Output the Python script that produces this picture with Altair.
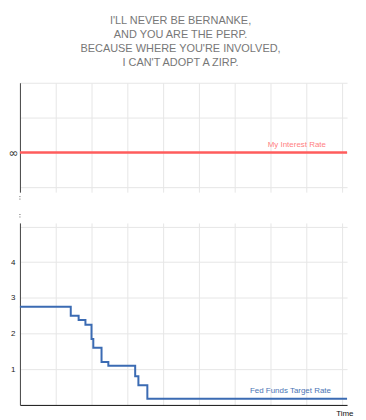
import altair as alt
import pandas as pd

# Fed funds target rate (step function)
fed_time = [0, 1.42, 1.64, 1.83, 2.0, 2.05, 2.28, 2.47, 3.22, 3.31, 3.56, 9.14]
fed_rate = [2.75, 2.5, 2.38, 2.25, 1.85, 1.6, 1.2, 1.1, 0.8, 0.55, 0.17, 0.17]

# "My interest rate" = infinity, drawn at the infinity level of the top panel
my_time = [0, 9.14]
my_rate = [0, 0]

title_lines = [
    "I'LL NEVER BE BERNANKE,",
    "AND YOU ARE THE PERP.",
    "BECAUSE WHERE YOU'RE INVOLVED,",
    "I CAN'T ADOPT A ZIRP.",
]
grid_times = list(range(10))

FONT = "Liberation Sans"
RED = "#ff5c5c"
BLUE = "#3b6bb3"
GRID = "#e6e6e6"
W = 329

fed = pd.DataFrame({"time": fed_time, "rate": fed_rate})
mine = pd.DataFrame({"time": my_time, "rate": my_rate})
my_label = pd.DataFrame({"time": [8.55], "rate": [0], "label": ["My Interest Rate"]})
fed_label = pd.DataFrame({"time": [8.69], "rate": [0.17], "label": ["Fed Funds Target Rate"]})

xscale = alt.Scale(domain=[0, 9.14], nice=False, zero=False)

# ---- top panel ----
top_y = alt.Scale(domain=[-1.14, 2], nice=False, zero=False)
x_top = alt.X("time:Q", scale=xscale, axis=alt.Axis(
    grid=True, labels=False, ticks=False, domain=False, title=None,
    values=grid_times, gridColor=GRID))
y_top = alt.Y("rate:Q", scale=top_y, axis=alt.Axis(
    values=[-1, 0, 1, 2], labelExpr="datum.value == 0 ? '\\u221e' : ''",
    grid=True, gridColor=GRID, ticks=False, domainColor="#444",
    labelFontSize=12, labelColor="#333", labelPadding=2, title=None,
    labelFont="DejaVu Sans"))
top_line = alt.Chart(mine).mark_line(color=RED, strokeWidth=2.5).encode(x=x_top, y=y_top)
top_text = alt.Chart(my_label).mark_text(
    align="right", baseline="bottom", dy=-3, color="#ff7f7f", fontSize=8, font=FONT
).encode(x=x_top, y=y_top, text="label:N")
break1 = alt.Chart(my_label).mark_rule(color="#666", strokeWidth=1, strokeDash=[1, 1.5]).encode(
    x=alt.value(0), y=alt.value(114), y2=alt.value(118))
break2 = alt.Chart(my_label).mark_rule(color="#666", strokeWidth=1, strokeDash=[1, 1.5]).encode(
    x=alt.value(0), y=alt.value(132), y2=alt.value(136))
top = alt.layer(top_line, top_text, break1, break2).properties(width=W, height=110)

# ---- bottom panel ----
bot_y = alt.Scale(domain=[0, 5.1], nice=False, zero=True)
x_bot = alt.X("time:Q", scale=xscale, axis=alt.Axis(
    grid=True, labels=False, ticks=False, domain=True, domainColor="#111",
    values=grid_times, gridColor=GRID, title="Time",
    titleFontSize=8, titleFontWeight="normal", titleFont=FONT, titleColor="#111",
    titleAnchor="end", titleAlign="right", titleBaseline="top", titleX=W + 6, titleY=5))
y_bot = alt.Y("rate:Q", scale=bot_y, axis=alt.Axis(
    values=[1, 2, 3, 4, 5], labelExpr="datum.value < 5 ? datum.label : ''",
    grid=True, gridColor=GRID, ticks=False, domainColor="#444",
    labelFontSize=8, labelColor="#222", labelPadding=5, title=None,
    labelFont=FONT))
bot_line = alt.Chart(fed).mark_line(color=BLUE, strokeWidth=2, interpolate="step-after").encode(
    x=x_bot, y=y_bot)
bot_text = alt.Chart(fed_label).mark_text(
    align="right", baseline="bottom", dy=-4, color="#4a74b4", fontSize=8, font=FONT
).encode(x=x_bot, y=y_bot, text="label:N")
bot = alt.layer(bot_line, bot_text).properties(width=W, height=183)

chart = alt.vconcat(top, bot, spacing=4).properties(
    title=alt.TitleParams(text=title_lines, fontSize=11, color="#777", font=FONT,
                          fontWeight="normal", lineHeight=14, anchor="middle", offset=15),
    padding={"left": 0, "top": 6, "right": 5, "bottom": 2},
).configure_view(stroke=None)

chart.save("out.html", embed_options={"renderer": "svg", "actions": False})
